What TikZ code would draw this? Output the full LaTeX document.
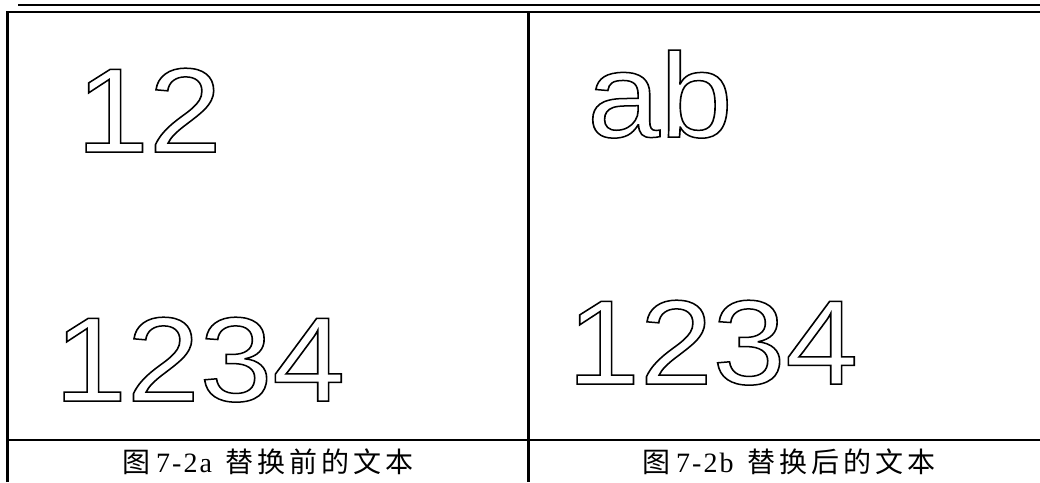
\documentclass[tikz,border=0pt]{standalone}
\usepackage{fontspec}
\setmainfont{Liberation Serif}
\newfontfamily\cjk{Noto Sans CJK SC}
\newfontfamily\arialf{Liberation Sans}
\newcommand\outlinetext[1]{\scalebox{1.09}[1]{\special{pdf:literal direct 1 Tr 1.5 w}#1\special{pdf:literal direct 0 Tr}}}
\newcommand\cjkgap{\hspace{4pt}}
\newcommand\latgap{\hspace{2pt}}
\newcommand\captsize{\fontsize{28}{32}\selectfont}
\begin{document}
\begin{tikzpicture}[x=1pt,y=-1pt,
  rule/.style={line width=2.2pt},
  bigdigit/.style={font=\arialf\fontsize{120}{120}\selectfont, inner sep=0pt, anchor=base west},
  capt/.style={inner sep=0pt, anchor=base west}]
\useasboundingbox (0,0) rectangle (1040,482);
\coordinate (tl) at (18,5);
\coordinate (tr) at (1040,5);
\coordinate (lb) at (7.5,482);
\coordinate (lt) at (7.5,12);
\coordinate (rt) at (1040,12);
\coordinate (mt) at (528.5,12);
\coordinate (mb) at (528.5,482);
\coordinate (hl) at (7.5,440);
\coordinate (hr) at (1040,440);
\draw[rule] (tl) -- (tr);
\draw[rule] (lb) -- (lt) -- (rt);
\draw[rule] (mt) -- (mb);
\draw[rule] (hl) -- (hr);
\node[bigdigit] (a12) at (76,152) {\outlinetext{12}};
\node[bigdigit] (bab) at (587,137) {\outlinetext{ab}};
\node[bigdigit] (a1234) at (54,401) {\outlinetext{1234}};
\node[bigdigit] (b1234) at (567,384) {\outlinetext{1234}};
\node[capt] (capa) at (122,472) {\captsize{\cjk\captsize 图}\hspace{6pt}7\latgap-\latgap2\latgap a\hspace{14pt}{\cjk\captsize 替\cjkgap 换\cjkgap 前\cjkgap 的\cjkgap 文\cjkgap 本}};
\node[capt] (capb) at (642,472) {\captsize{\cjk\captsize 图}\hspace{6pt}7\latgap-\latgap2\latgap b\hspace{14pt}{\cjk\captsize 替\cjkgap 换\cjkgap 后\cjkgap 的\cjkgap 文\cjkgap 本}};
\end{tikzpicture}
\end{document}
